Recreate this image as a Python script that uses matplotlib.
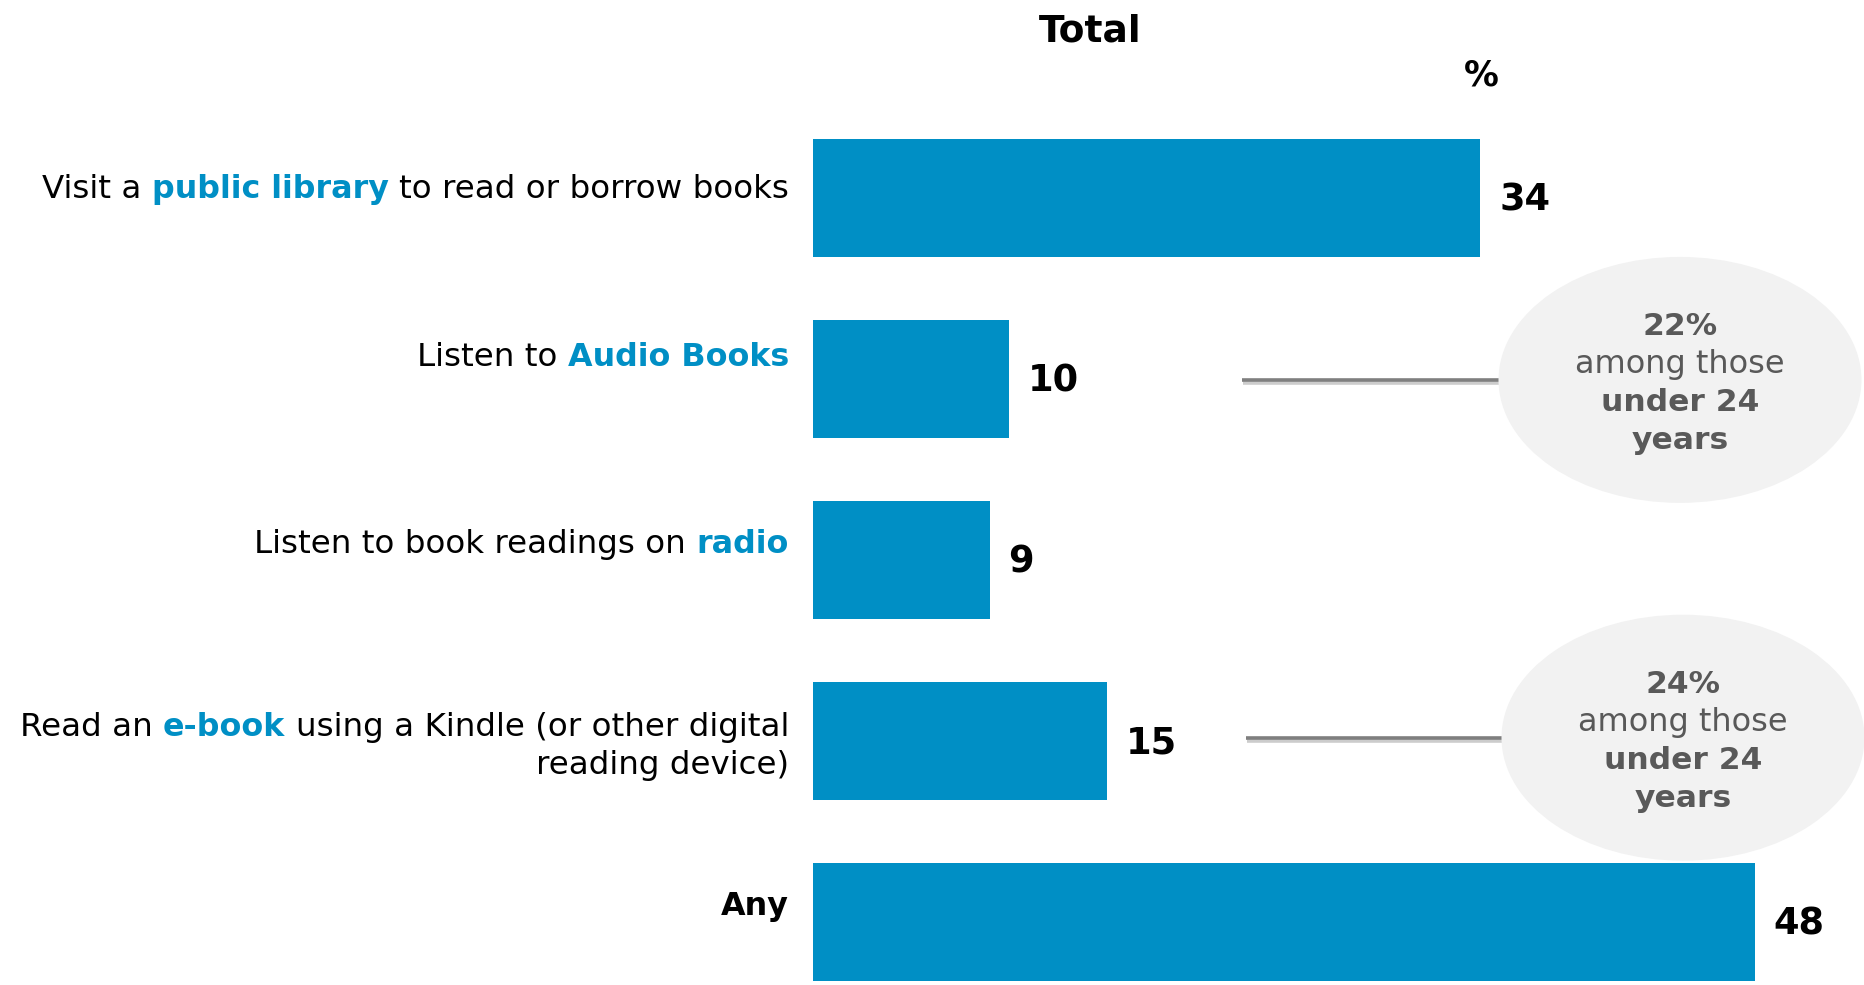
import matplotlib
matplotlib.use("Agg")
import matplotlib.pyplot as plt
import matplotlib.patheffects as pe
from matplotlib.patches import Ellipse

# Share of people doing each reading activity (%)
categories = [
    "Visit a public library to read or borrow books",
    "Listen to Audio Books",
    "Listen to book readings on radio",
    "Read an e-book using a Kindle (or other digital\nreading device)",
    "Any",
]
highlights = ["public library", "Audio Books", "radio", "e-book", None]
values = [34, 10, 9, 15, 48]

# Young-people callouts next to two of the bars
callout_rows = [1, 3]
callout_pcts = [22, 24]
callout_lines = ["among those", "under 24", "years"]

BLUE = "#008fc5"
GREY_TXT = "#595959"
LABEL_FS = {"normal": 23.4, "bold": 22.9}
CALLOUT_FS = {"normal": 23.0, "bold": 22.6}
VALUE_FS = 26.5

W, H = 1864, 985
X0, PX_PER_UNIT = 813, 19.62     # where 0 sits and pixels per percent
Y0, PITCH = 198, 180.9           # first bar centre and row spacing (px)
BAR_H = 118 / PITCH

# baseline shift of each category label from its bar centre (px, down)
label_dy = [0, -13, -7, -5, -7]
LINE_GAP = 38

fig = plt.figure(figsize=(W / 100, H / 100), dpi=100)
ax = fig.add_axes([0, 0, 1, 1])
ax.set_xlim(-X0 / PX_PER_UNIT, (W - X0) / PX_PER_UNIT)
ax.set_ylim((H - Y0) / PITCH, -Y0 / PITCH)
ax.axis("off")

rows = list(range(len(values)))
ax.barh(rows, values, height=BAR_H, color=BLUE, zorder=2)

for r, v in zip(rows, values):
    ax.annotate(str(v), xy=(v, r), xytext=(19, -2), textcoords="offset pixels",
                ha="left", va="center", fontsize=VALUE_FS, fontweight="bold",
                color="black")


def rich_line(x, y, dy, parts):
    # draw right to left so every line ends at x
    space = 0.32 * LABEL_FS["normal"] * 100 / 72
    prev = None
    for text, color, weight in reversed(parts):
        kw = dict(fontsize=LABEL_FS[weight], color=color, fontweight=weight,
                  annotation_clip=False)
        if prev is None:
            prev = ax.annotate(text, xy=(x, y), xytext=(0, -dy),
                               textcoords="offset pixels", ha="right",
                               va="baseline", **kw)
        else:
            prev = ax.annotate(text, xy=(0, 0), xycoords=prev,
                               xytext=(-space, 0), textcoords="offset pixels",
                               ha="right", va="bottom", **kw)


label_x = (789 - X0) / PX_PER_UNIT
for r, (cat, hl) in enumerate(zip(categories, highlights)):
    for i, line in enumerate(cat.split("\n")):
        if hl is None:
            parts = [(line, "black", "bold")]
        elif hl in line:
            before, _, after = line.partition(hl)
            parts = [(before.strip(), "black", "normal"),
                     (hl, BLUE, "bold"),
                     (after.strip(), "black", "normal")]
            parts = [p for p in parts if p[0]]
        else:
            parts = [(line, "black", "normal")]
        rich_line(label_x, r, label_dy[r] + i * LINE_GAP, parts)

# grey bubbles with connector lines
bubble_cx = [1680, 1683]
bubble_dy = [1, -3]
line_x0 = [1242, 1246]
for r, pct, cx, dy0, lx in zip(callout_rows, callout_pcts, bubble_cx,
                               bubble_dy, line_x0):
    xc = (cx - X0) / PX_PER_UNIT
    yc = r + dy0 / PITCH
    x_start = (lx - X0) / PX_PER_UNIT
    ax.plot([x_start, xc], [yc, yc], color="#7f7f7f", lw=2.6, zorder=3,
            solid_capstyle="butt",
            path_effects=[pe.SimpleLineShadow(offset=(1, -2.5),
                                              shadow_color="#9a9a9a",
                                              alpha=0.5),
                          pe.Normal()])
    ax.add_patch(Ellipse((xc, yc), 363 / PX_PER_UNIT, 246 / PITCH,
                         facecolor="#f2f2f2", edgecolor="none", zorder=4))
    texts = [f"{pct}%"] + callout_lines
    weights = ["bold", "normal", "bold", "bold"]
    offsets = [-45, -7, 31, 69]
    for t, w, dy in zip(texts, weights, offsets):
        ax.annotate(t, xy=(xc, yc), xytext=(0, -dy), textcoords="offset pixels",
                    ha="center", va="baseline", fontsize=CALLOUT_FS[w],
                    fontweight=w, color=GREY_TXT, zorder=5)

fig.text(1090 / W, 1 - 31 / H, "Total", ha="center", va="center",
         fontsize=VALUE_FS + 0.5, fontweight="bold")
fig.text(1481 / W, 1 - 75 / H, "%", ha="center", va="center",
         fontsize=25, fontweight="bold")

fig.savefig("out.png", dpi=100, facecolor="white")
